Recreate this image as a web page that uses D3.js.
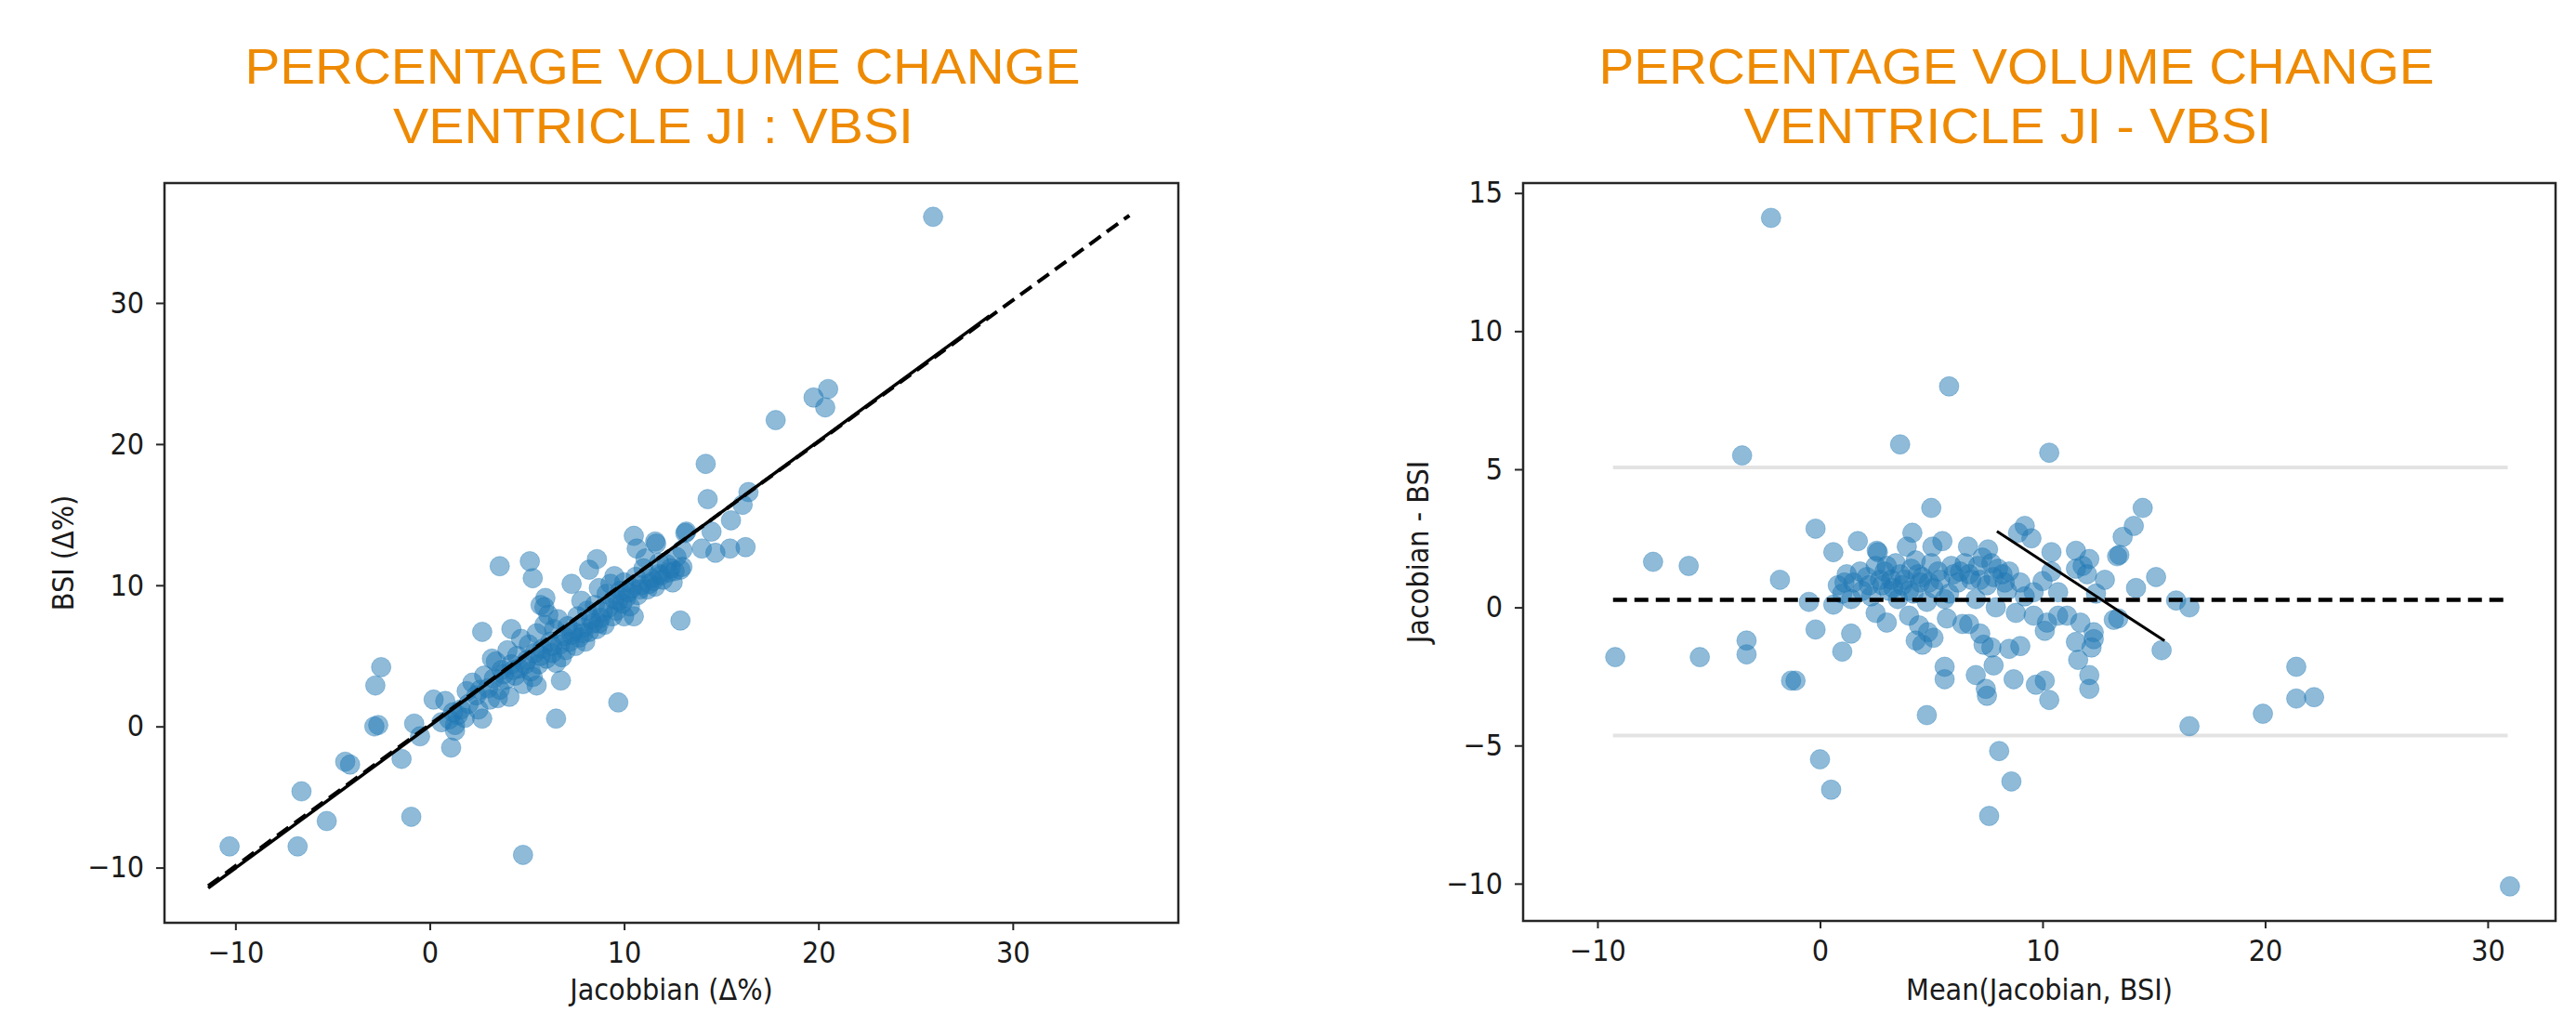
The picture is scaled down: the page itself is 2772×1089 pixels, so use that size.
<!DOCTYPE html>
<html><head><meta charset="utf-8">
<script src="https://cdn.jsdelivr.net/npm/d3@7"></script>
<style>
html,body{margin:0;padding:0;background:#fff;}
svg{display:block;}
</style></head><body>
<svg id="chart" width="2772" height="1089"></svg>
<script>
// ---------------- DATA ----------------
const leftTitle = ["PERCENTAGE VOLUME CHANGE", "VENTRICLE JI : VBSI"];
const rightTitle = ["PERCENTAGE VOLUME CHANGE", "VENTRICLE JI - VBSI"];

const leftXLabel = "Jacobbian (\u0394%)";
const leftYLabel = "BSI (\u0394%)";
const rightXLabel = "Mean(Jacobian, BSI)";
const rightYLabel = "Jacobian - BSI";

const leftXTicks = [-10, 0, 10, 20, 30];
const leftYTicks = [-10, 0, 10, 20, 30];
const rightXTicks = [-10, 0, 10, 20, 30];
const rightYTicks = [-10, -5, 0, 5, 10, 15];

const leftXLimits = [-13.65, 38.52];
const leftYLimits = [-13.91, 38.49];
const rightXLimits = [-13.34, 33.05];
const rightYLimits = [-11.35, 15.36];

// Jacobian (Δ%) vs BSI (Δ%)
const scatterPoints = [
  [-10.3,-8.5],[-6.8,-8.5],[-6.6,-4.6],[-5.3,-6.7],[-4.35,-2.5],[-4.1,-2.7],[-2.5,4.2],[-2.8,2.9],
  [-2.65,0.1],[-2.85,0.0],[-0.8,0.2],[-0.5,-0.7],[-1.45,-2.3],[-0.95,-6.4],[0.2,1.9],[0.8,1.8],
  [1.1,-1.5],[1.3,0.1],[1.45,0.8],[1.3,-0.3],[2.7,0.55],[2.7,6.7],[4.8,-9.1],[6.5,0.55],[9.7,1.7],
  [6.75,3.25],[5.5,2.9],[4.2,6.9],[5.7,8.6],[12.9,7.5],
  [3.6,11.35],[5.15,11.7],[5.3,10.5],[5.95,9.1],[5.9,8.45],[7.3,10.1],[8.6,11.85],[8.2,11.1],
  [10.5,13.5],[10.65,12.6],[11.6,13.1],[13.2,13.8],[14.2,18.6],[14.3,16.1],[14.0,12.6],[10.5,7.8],
  [10.0,7.8],[9.5,10.65],[12.9,11.1],[12.3,10.9],[11.5,10.3],
  [25.9,36.1],[20.5,23.9],[19.75,23.3],[20.35,22.6],[17.8,21.7],[16.4,16.6],[16.1,15.7],[15.5,14.6],
  [14.5,13.8],[16.25,12.7],[15.45,12.6],[14.7,12.3],[13.15,13.7],[11.65,12.95],[13.0,12.5],[12.6,11.0],[11.8,10.8],
  [1.6,1.2],[1.9,2.5],[2.0,1.6],[2.2,3.1],[2.4,2.2],[2.5,1.2],[2.8,3.6],[3.0,2.7],[3.1,1.9],[3.3,3.4],
  [3.4,4.6],[3.6,2.6],[3.7,4.0],[3.9,3.3],[4.0,5.4],[4.1,2.1],[4.2,4.4],[4.4,3.6],[4.5,5.0],[4.6,4.1],
  [4.7,6.2],[4.8,3.0],[5.0,4.7],[5.1,5.8],[5.2,3.9],[5.4,5.2],[5.5,6.6],[5.6,4.4],[5.8,5.5],[5.9,7.2],
  [6.0,4.8],[6.2,6.0],[6.3,5.2],[6.4,6.9],[6.5,4.5],[6.6,7.6],[6.7,5.8],[6.9,6.4],[7.0,5.4],[7.1,7.1],
  [7.2,6.0],[7.4,6.7],[7.5,5.7],[7.6,7.8],[7.7,6.3],[7.9,7.0],[8.0,6.0],[8.1,8.2],[8.2,6.7],[8.4,7.3],
  [8.5,8.6],[8.6,6.9],[8.8,7.7],[8.9,8.1],[9.0,7.2],[9.1,9.4],[9.2,8.4],[9.4,7.8],[9.5,9.0],[9.6,8.2],
  [9.8,9.6],[9.9,8.7],[10.0,10.2],[10.1,9.1],[10.3,8.5],[10.4,9.8],[10.6,10.6],[10.7,9.3],[10.9,10.0],
  [11.0,11.2],[11.2,9.7],[11.4,10.5],[11.6,9.9],[11.8,11.6],[12.0,10.4],[12.2,11.5],[12.5,10.2],
  [12.7,12.0],[13.0,11.3],[1.0,0.5],[1.2,1.0],[0.6,0.3],[1.8,0.6],[3.2,4.8],[6.1,7.9],[7.8,8.9],
  [8.7,9.8],[9.3,10.1],[11.1,11.9],[3.5,2.0],[5.3,3.5],[6.8,4.9],
  [7.3,6.5],[7.9,6.6],[8.3,7.6],[8.7,7.3],[9.7,8.9],[10.2,9.5],[10.8,9.7],[11.3,10.1],[6.3,5.7],
  [5.7,5.0],[4.3,4.0],[4.9,4.4],[3.8,3.7],[2.6,2.6],[11.9,10.7],[12.4,11.2]
];
const identityLine = [[-11.4,-11.3],[36.0,36.2]];
const regressionLine = [[-11.4,-11.45],[28.8,29.08]];

// Mean(Jacobian, BSI) vs Jacobian - BSI
const blandAltmanPoints = [
  [-2.2,14.1],[-3.5,5.5],[5.8,8.0],[3.6,5.9],[10.3,5.6],[31.0,-10.1],
  [-9.2,-1.8],[-7.5,1.65],[-5.9,1.5],[-5.4,-1.8],[-3.3,-1.2],[-3.3,-1.7],[-1.8,1.0],[-1.3,-2.65],[-1.1,-2.65],
  [-0.2,2.85],[-0.5,0.2],[-0.2,-0.8],[0.0,-5.5],[0.5,-6.6],[1.0,-1.6],[1.4,-0.95],
  [21.4,-2.15],[21.4,-3.3],[22.2,-3.25],[19.9,-3.85],[16.6,-4.3],[15.35,-1.55],[15.1,1.1],[16.0,0.25],[16.6,0.0],
  [14.5,3.6],[14.1,2.95],[13.6,2.55],[13.45,1.9],[12.8,1.0],[14.2,0.7],[13.4,-0.4],
  [8.05,-5.2],[8.6,-6.3],[7.6,-7.55],[4.8,-3.9],
  [12.1,-2.95],[12.1,-2.45],[10.3,-3.35],[10.1,-2.65],[9.7,-2.8],[8.7,-2.6],[7.5,-3.2],[7.45,-2.95],
  [7.0,-2.45],[7.8,-2.1],[5.6,-2.15],[5.6,-2.6],
  [9.0,-1.4],[8.5,-1.5],[7.7,-1.45],[7.35,-1.35],[7.2,-0.95],[6.7,-0.6],[11.5,-1.25],[11.6,-1.9],
  [12.3,-0.9],[12.3,-1.15],[12.2,-1.45],[13.2,-0.45],
  [5.0,3.6],[9.2,2.95],[9.5,2.5],[8.9,2.7],[1.7,2.4],[4.15,2.7],[0.6,2.0],[2.55,2.05],[5.05,2.2],
  [6.65,2.2],[7.55,2.1],[10.4,2.0],[11.5,2.05],[12.1,1.75],[13.35,1.85],
  [10.0,0.95],[10.7,0.55],[9.6,0.55],[11.5,1.4],[11.8,1.5],[12.0,1.2],[12.4,0.5],
  [2.5,-0.2],[3.0,-0.55],[4.0,-0.3],[4.45,-0.65],[4.85,-0.9],[5.1,-1.1],[4.3,-1.2],[4.6,-1.35],
  [5.7,-0.4],[6.4,-0.6],[7.9,0.0],[8.8,-0.2],[9.6,-0.3],[10.2,-0.55],[10.7,-0.3],[11.1,-0.3],
  [11.7,-0.55],[10.1,-0.85],
  [0.6,0.1],[0.8,0.8],[1.0,0.5],[1.2,1.2],[1.4,0.3],[1.5,0.9],[1.9,0.6],[2.1,1.1],[2.3,0.4],
  [2.5,1.5],[2.6,2.0],[2.8,0.8],[2.9,1.3],[3.1,0.6],[3.2,1.0],[3.4,1.6],[3.5,0.3],[3.6,1.2],
  [3.7,0.8],[3.9,2.2],[4.1,1.4],[4.2,0.5],[4.3,1.7],[4.5,0.9],[4.6,1.1],[4.8,0.2],[5.0,1.6],
  [5.1,0.7],[5.3,1.3],[5.5,2.4],[5.8,0.5],[6.0,1.2],[6.2,0.9],[6.5,1.6],[6.8,1.0],[7.0,0.3],
  [7.1,1.5],[7.3,1.8],[7.5,0.8],[7.8,1.1],[8.0,1.4],[8.2,1.2],[8.4,0.6],[8.5,1.3],[9.0,0.9],
  [9.2,0.4],[10.4,1.3],
  [1.1,0.9],[1.8,1.3],[2.2,0.8],[2.7,1.0],[3.3,0.7],[3.8,1.0],[4.4,1.2],[4.9,0.9],[5.4,1.0],
  [5.9,1.5],[6.3,1.3],[6.7,1.2],[7.2,1.0],[7.7,1.6],[8.3,0.9],[3.0,1.5],[4.0,0.6],[5.6,0.3]
];
const meanDifference = 0.27;
const upperLimit = 5.07;
const lowerLimit = -4.64;
const refLineRange = [-9.3, 30.9];
const trendLine = [[7.95,2.75],[15.48,-1.21]];

// ---------------- DRAWING ----------------
const svg = d3.select("#chart");
const orange = "#EE8A02";
const dotColor = "#1f77b4";
const fmt = d => d < 0 ? "\u2212" + Math.abs(d) : String(d);
const tickFont = "'DejaVu Sans Condensed','DejaVu Sans',sans-serif";

function title(lines, cx1, w1, cx2, w2) {
  const g = svg.append("g").attr("font-family", "'Liberation Sans',Arial,sans-serif")
    .attr("font-size", 53.5).attr("fill", orange).attr("text-anchor", "middle");
  g.append("text").attr("x", cx1).attr("y", 90).attr("textLength", w1)
    .attr("lengthAdjust", "spacingAndGlyphs").text(lines[0]);
  g.append("text").attr("x", cx2).attr("y", 154).attr("textLength", w2)
    .attr("lengthAdjust", "spacingAndGlyphs").text(lines[1]);
}
title(leftTitle, 713, 899, 703, 560);
title(rightTitle, 2170, 899, 2160.5, 568);

function panel(cfg) {
  const x = d3.scaleLinear().domain(cfg.xLim).range([cfg.x0, cfg.x1]);
  const y = d3.scaleLinear().domain(cfg.yLim).range([cfg.y1, cfg.y0]);
  const g = svg.append("g");

  const xa = g.append("g").attr("transform", `translate(0,${cfg.y1})`)
    .call(d3.axisBottom(x).tickValues(cfg.xTicks).tickSize(8).tickPadding(12).tickFormat(fmt));
  const ya = g.append("g").attr("transform", `translate(${cfg.x0},0)`)
    .call(d3.axisLeft(y).tickValues(cfg.yTicks).tickSize(9).tickPadding(13).tickFormat(fmt));
  [xa, ya].forEach(a => {
    a.select(".domain").remove();
    a.selectAll("line").attr("stroke", "#262626").attr("stroke-width", 2);
    a.selectAll("text").attr("font-family", tickFont).attr("font-size", 32).attr("fill", "#1a1a1a");
  });

  g.append("text").attr("x", (cfg.x0 + cfg.x1) / 2).attr("y", 1076)
    .attr("text-anchor", "middle").attr("font-family", tickFont).attr("font-size", 32)
    .attr("fill", "#1a1a1a").text(cfg.xLabel);
  g.append("text").attr("transform", `translate(${cfg.yLabelX},${(cfg.y0 + cfg.y1) / 2}) rotate(-90)`)
    .attr("text-anchor", "middle").attr("font-family", tickFont).attr("font-size", 32)
    .attr("fill", "#1a1a1a").text(cfg.yLabel);

  const plot = g.append("g");
  cfg.draw(plot, x, y);

  g.append("rect").attr("x", cfg.x0).attr("y", cfg.y0)
    .attr("width", cfg.x1 - cfg.x0).attr("height", cfg.y1 - cfg.y0)
    .attr("fill", "none").attr("stroke", "#262626").attr("stroke-width", 2.5);
}

const line = (x, y) => d3.line().x(d => x(d[0])).y(d => y(d[1]));

panel({
  x0: 177, x1: 1268, y0: 197, y1: 993,
  xLim: leftXLimits, yLim: leftYLimits, xTicks: leftXTicks, yTicks: leftYTicks,
  xLabel: leftXLabel, yLabel: leftYLabel, yLabelX: 79,
  draw: (p, x, y) => {
    p.selectAll("circle").data(scatterPoints).join("circle")
      .attr("cx", d => x(d[0])).attr("cy", d => y(d[1])).attr("r", 10.5)
      .attr("fill", dotColor).attr("fill-opacity", 0.5)
      .attr("stroke", dotColor).attr("stroke-opacity", 0.35).attr("stroke-width", 1);
    p.append("path").datum(identityLine).attr("d", line(x, y))
      .attr("fill", "none").attr("stroke", "#000").attr("stroke-width", 4)
      .attr("stroke-dasharray", "15,8");
    p.append("path").datum(regressionLine).attr("d", line(x, y))
      .attr("fill", "none").attr("stroke", "#000").attr("stroke-width", 3.5);
  }
});

panel({
  x0: 1639, x1: 2750, y0: 197, y1: 991,
  xLim: rightXLimits, yLim: rightYLimits, xTicks: rightXTicks, yTicks: rightYTicks,
  xLabel: rightXLabel, yLabel: rightYLabel, yLabelX: 1537,
  draw: (p, x, y) => {
    [upperLimit, lowerLimit].forEach(v => {
      p.append("line").attr("x1", x(refLineRange[0])).attr("x2", x(refLineRange[1]))
        .attr("y1", y(v)).attr("y2", y(v)).attr("stroke", "#e3e3e3").attr("stroke-width", 4);
    });
    p.selectAll("circle").data(blandAltmanPoints).join("circle")
      .attr("cx", d => x(d[0])).attr("cy", d => y(d[1])).attr("r", 10.5)
      .attr("fill", dotColor).attr("fill-opacity", 0.5)
      .attr("stroke", dotColor).attr("stroke-opacity", 0.35).attr("stroke-width", 1);
    p.append("line").attr("x1", x(refLineRange[0])).attr("x2", x(refLineRange[1]))
      .attr("y1", y(meanDifference)).attr("y2", y(meanDifference))
      .attr("stroke", "#000").attr("stroke-width", 4.5).attr("stroke-dasharray", "15,8");
    p.append("path").datum(trendLine).attr("d", line(x, y))
      .attr("fill", "none").attr("stroke", "#000").attr("stroke-width", 3);
  }
});
</script>
</body></html>
